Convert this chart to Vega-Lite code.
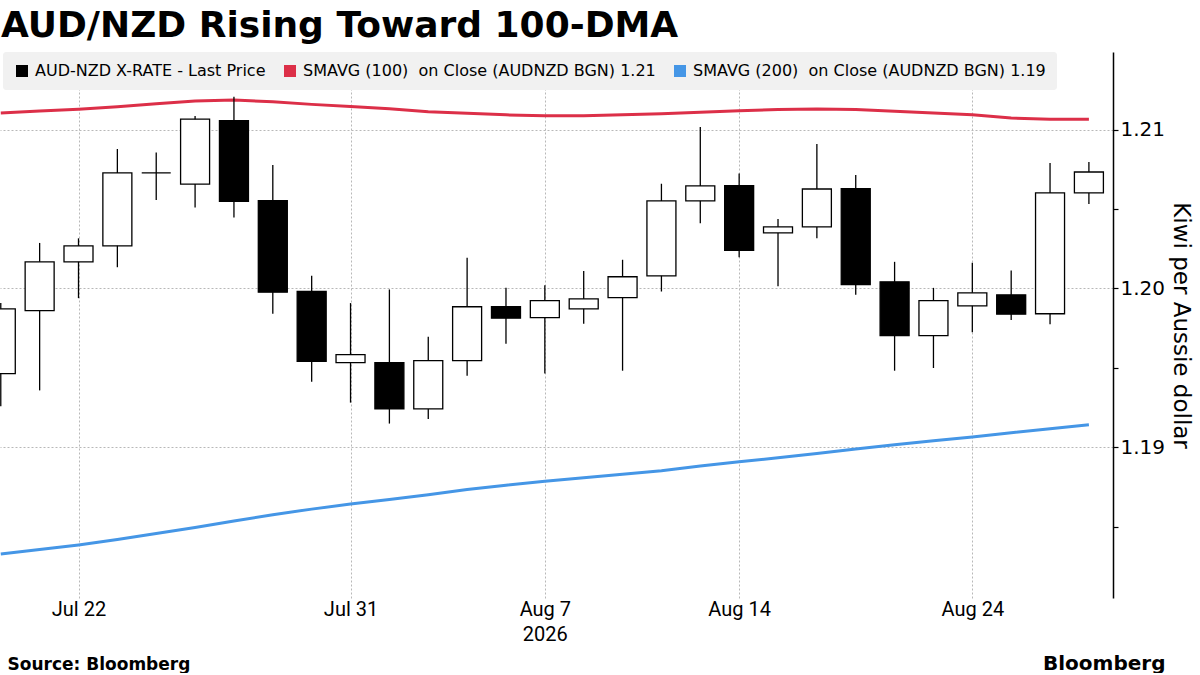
{
  "$schema": "https://vega.github.io/schema/vega-lite/v6.json",
  "width": 1113,
  "height": 546,
  "padding": {"left": 0, "top": 8, "right": 6, "bottom": 0},
  "background": "white",
  "title": {
    "text": "AUD/NZD Rising Toward 100-DMA",
    "anchor": "start",
    "font": "DejaVu Sans",
    "fontWeight": "bold",
    "fontSize": 36,
    "color": "black",
    "offset": 7,
    "dx": 1
  },
  "datasets": {
    "candles": [
      {"date": "2026-07-20", "i": 0, "open": 1.19464, "high": 1.19908, "low": 1.19258, "close": 1.19872, "sma100": 1.21106, "sma200": 1.18327},
      {"date": "2026-07-21", "i": 1, "open": 1.19860, "high": 1.20287, "low": 1.19358, "close": 1.20168, "sma100": 1.21118, "sma200": 1.18355},
      {"date": "2026-07-22", "i": 2, "open": 1.20168, "high": 1.20316, "low": 1.19939, "close": 1.20269, "sma100": 1.21129, "sma200": 1.18384},
      {"date": "2026-07-23", "i": 3, "open": 1.20269, "high": 1.20879, "low": 1.20134, "close": 1.20728, "sma100": 1.21145, "sma200": 1.18418},
      {"date": "2026-07-24", "i": 4, "open": 1.20728, "high": 1.20857, "low": 1.20558, "close": 1.20728, "sma100": 1.21164, "sma200": 1.18456},
      {"date": "2026-07-27", "i": 5, "open": 1.20658, "high": 1.21086, "low": 1.20511, "close": 1.21067, "sma100": 1.21181, "sma200": 1.18494},
      {"date": "2026-07-28", "i": 6, "open": 1.21057, "high": 1.21208, "low": 1.20448, "close": 1.20549, "sma100": 1.21187, "sma200": 1.18535},
      {"date": "2026-07-29", "i": 7, "open": 1.20553, "high": 1.20778, "low": 1.19841, "close": 1.19977, "sma100": 1.21176, "sma200": 1.18575},
      {"date": "2026-07-30", "i": 8, "open": 1.19981, "high": 1.20080, "low": 1.19413, "close": 1.19541, "sma100": 1.21160, "sma200": 1.18610},
      {"date": "2026-07-31", "i": 9, "open": 1.19533, "high": 1.19908, "low": 1.19281, "close": 1.19583, "sma100": 1.21147, "sma200": 1.18642},
      {"date": "2026-08-03", "i": 10, "open": 1.19533, "high": 1.19994, "low": 1.19149, "close": 1.19241, "sma100": 1.21132, "sma200": 1.18670},
      {"date": "2026-08-04", "i": 11, "open": 1.19241, "high": 1.19696, "low": 1.19178, "close": 1.19545, "sma100": 1.21114, "sma200": 1.18701},
      {"date": "2026-08-05", "i": 12, "open": 1.19545, "high": 1.20193, "low": 1.19451, "close": 1.19885, "sma100": 1.21104, "sma200": 1.18733},
      {"date": "2026-08-06", "i": 13, "open": 1.19885, "high": 1.20004, "low": 1.19652, "close": 1.19813, "sma100": 1.21094, "sma200": 1.18761},
      {"date": "2026-08-07", "i": 14, "open": 1.19816, "high": 1.20021, "low": 1.19465, "close": 1.19923, "sma100": 1.21089, "sma200": 1.18786},
      {"date": "2026-08-10", "i": 15, "open": 1.19872, "high": 1.20111, "low": 1.19778, "close": 1.19935, "sma100": 1.21088, "sma200": 1.18808},
      {"date": "2026-08-11", "i": 16, "open": 1.19942, "high": 1.20181, "low": 1.19482, "close": 1.20074, "sma100": 1.21094, "sma200": 1.18830},
      {"date": "2026-08-12", "i": 17, "open": 1.20080, "high": 1.20660, "low": 1.19981, "close": 1.20552, "sma100": 1.21101, "sma200": 1.18852},
      {"date": "2026-08-13", "i": 18, "open": 1.20552, "high": 1.21017, "low": 1.20411, "close": 1.20646, "sma100": 1.21110, "sma200": 1.18881},
      {"date": "2026-08-14", "i": 19, "open": 1.20648, "high": 1.20725, "low": 1.20197, "close": 1.20241, "sma100": 1.21120, "sma200": 1.18908},
      {"date": "2026-08-17", "i": 20, "open": 1.20350, "high": 1.20438, "low": 1.20014, "close": 1.20388, "sma100": 1.21127, "sma200": 1.18934},
      {"date": "2026-08-18", "i": 21, "open": 1.20388, "high": 1.20910, "low": 1.20316, "close": 1.20627, "sma100": 1.21131, "sma200": 1.18960},
      {"date": "2026-08-19", "i": 22, "open": 1.20629, "high": 1.20715, "low": 1.19960, "close": 1.20025, "sma100": 1.21127, "sma200": 1.18989},
      {"date": "2026-08-20", "i": 23, "open": 1.20042, "high": 1.20168, "low": 1.19482, "close": 1.19703, "sma100": 1.21116, "sma200": 1.19016},
      {"date": "2026-08-21", "i": 24, "open": 1.19703, "high": 1.20004, "low": 1.19499, "close": 1.19923, "sma100": 1.21106, "sma200": 1.19040},
      {"date": "2026-08-24", "i": 25, "open": 1.19891, "high": 1.20162, "low": 1.19725, "close": 1.19973, "sma100": 1.21095, "sma200": 1.19065},
      {"date": "2026-08-25", "i": 26, "open": 1.19960, "high": 1.20113, "low": 1.19801, "close": 1.19838, "sma100": 1.21074, "sma200": 1.19091},
      {"date": "2026-08-26", "i": 27, "open": 1.19841, "high": 1.20791, "low": 1.19775, "close": 1.20602, "sma100": 1.21067, "sma200": 1.19116},
      {"date": "2026-08-27", "i": 28, "open": 1.20602, "high": 1.20797, "low": 1.20533, "close": 1.20734, "sma100": 1.21066, "sma200": 1.19141}
    ]
  },
  "data": {"name": "candles"},
  "resolve": {"axis": {"x": "independent"}},
  "layer": [
    {
      "transform": [{"fold": ["sma100", "sma200"], "as": ["series", "value"]}],
      "mark": {"type": "line", "strokeWidth": 3, "clip": true},
      "encoding": {
        "x": {
          "field": "i", "type": "quantitative",
          "scale": {"domain": [-0.02, 28.62], "nice": false, "zero": false, "padding": 0},
          "axis": {
            "orient": "bottom", "labels": false, "ticks": false, "domain": false, "grid": false,
            "title": "Bloomberg", "titleFont": "DejaVu Sans", "titleFontWeight": "bold", "titleFontSize": 20,
            "titleColor": "black", "titleAnchor": "end", "titleAlign": "right", "titleBaseline": "alphabetic",
            "titleX": 1165, "titleY": 71
          }
        },
        "y": {
          "field": "value", "type": "quantitative",
          "scale": {"domain": [1.1805, 1.2149], "nice": false, "zero": false},
          "axis": {
            "orient": "right",
            "values": [1.185, 1.19, 1.195, 1.2, 1.205, 1.21],
            "labelExpr": "abs(datum.value * 100 - round(datum.value * 100)) < 0.01 ? format(datum.value, '.2f') : ''",
            "labelFont": "DejaVu Sans",
            "labelFontSize": 20,
            "labelColor": "black",
            "labelPadding": 2,
            "tickSize": 5,
            "tickColor": "black",
            "tickWidth": 1.2,
            "domain": true,
            "domainColor": "black",
            "domainWidth": 1.5,
            "grid": true,
            "gridColor": "#b8b8b8",
            "gridDash": [2, 2],
            "gridWidth": 1,
            "gridOpacity": {"condition": {"test": "abs(datum.value * 100 - round(datum.value * 100)) < 0.01", "value": 1}, "value": 0},
            "title": "Kiwi per Aussie dollar",
            "titleFont": "DejaVu Sans",
            "titleFontWeight": "normal",
            "titleFontSize": 23,
            "titleColor": "black",
            "titleAngle": 90,
            "titlePadding": 4
          }
        },
        "color": {
          "field": "series", "type": "nominal",
          "scale": {"domain": ["price", "sma100", "sma200"], "range": ["#000000", "#dc2f48", "#4596e6"]},
          "legend": {
            "title": null,
            "orient": "none",
            "legendX": 3,
            "legendY": 0,
            "direction": "horizontal",
            "fillColor": "#f1f1f1",
            "cornerRadius": 3,
            "padding": 11,
            "symbolType": "square",
            "symbolSize": 144,
            "symbolStrokeWidth": 0,
            "labelFont": "DejaVu Sans",
            "labelFontSize": 16,
            "labelColor": "black",
            "labelLimit": 600,
            "labelOffset": 5,
            "columnPadding": 16,
            "labelExpr": "datum.value == 'price' ? 'AUD-NZD X-RATE - Last Price' : datum.value == 'sma100' ? 'SMAVG (100)\u00a0 on Close (AUDNZD BGN) 1.21' : 'SMAVG (200)\u00a0 on Close (AUDNZD BGN) 1.19'",
            "encode": {"symbols": {"update": {"fill": {"scale": "color", "field": "value"}, "strokeWidth": {"value": 0}}}}
          }
        }
      }
    },
    {
      "mark": {"type": "rule", "color": "black", "strokeWidth": 1.3, "clip": true},
      "encoding": {
        "x": {
          "field": "i", "type": "quantitative",
          "scale": {"domain": [-0.02, 28.62], "nice": false, "zero": false, "padding": 0},
          "axis": {
            "orient": "bottom",
            "values": [2, 9, 14, 19, 25],
            "labelExpr": "datum.value == 2 ? 'Jul 22' : datum.value == 9 ? 'Jul 31' : datum.value == 14 ? ['Aug 7', '2026'] : datum.value == 19 ? 'Aug 14' : 'Aug 24'",
            "labelFont": "Liberation Sans Narrow, Roboto",
            "labelFontSize": 20,
            "labelColor": "black",
            "labelPadding": 1,
            "labelLineHeight": 25,
            "labelFlush": false,
            "ticks": false,
            "domain": false,
            "grid": true,
            "gridColor": "#b8b8b8",
            "gridDash": [2, 2],
            "gridWidth": 1,
            "title": "Source: Bloomberg",
            "titleFont": "DejaVu Sans",
            "titleFontWeight": "bold",
            "titleFontSize": 17,
            "titleColor": "black",
            "titleAnchor": "start",
            "titleAlign": "left",
            "titleBaseline": "alphabetic",
            "titleX": 7,
            "titleY": 71
          }
        },
        "y": {
          "field": "low", "type": "quantitative",
          "scale": {"domain": [1.1805, 1.2149], "nice": false, "zero": false}
        },
        "y2": {"field": "high"}
      }
    },
    {
      "mark": {"type": "bar", "size": 29, "stroke": "black", "strokeWidth": 1.3, "clip": true},
      "encoding": {
        "x": {
          "field": "i", "type": "quantitative",
          "scale": {"domain": [-0.02, 28.62], "nice": false, "zero": false, "padding": 0},
          "axis": null
        },
        "y": {
          "field": "open", "type": "quantitative",
          "scale": {"domain": [1.1805, 1.2149], "nice": false, "zero": false}
        },
        "y2": {"field": "close"},
        "fill": {"condition": {"test": "datum.close < datum.open", "value": "black"}, "value": "white"}
      }
    }
  ],
  "config": {
    "view": {"stroke": null},
    "font": "DejaVu Sans"
  }
}
